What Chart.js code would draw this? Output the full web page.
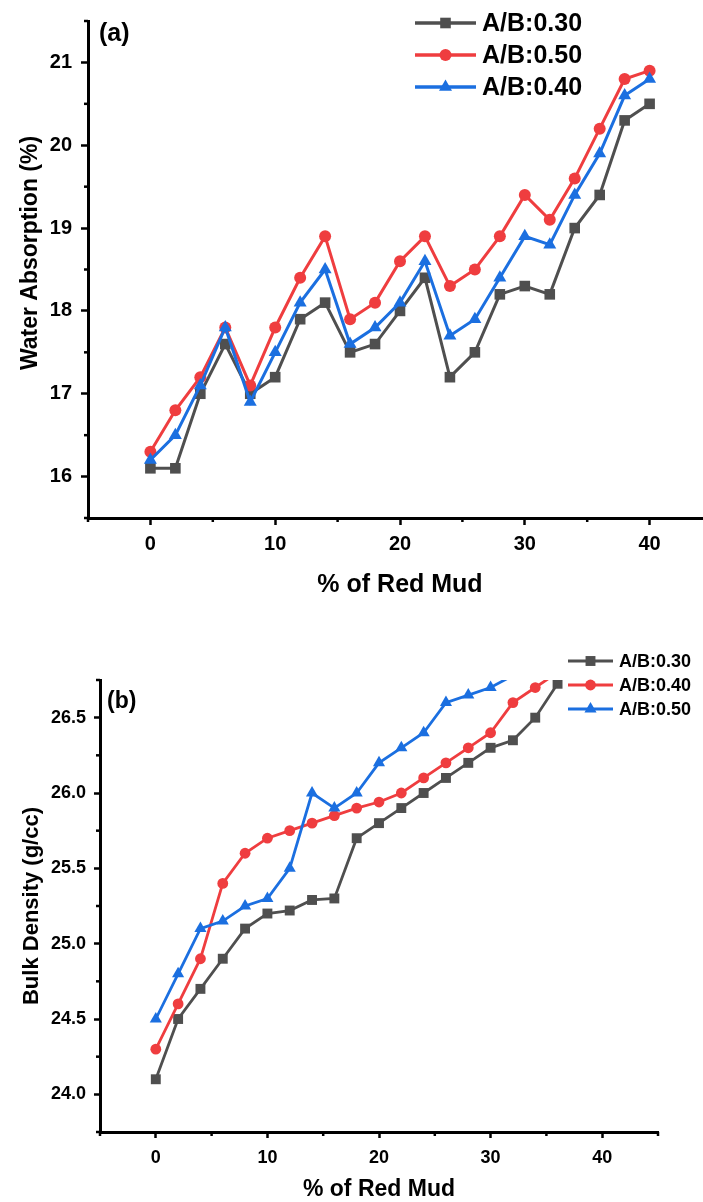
<!DOCTYPE html>
<html><head><meta charset="utf-8">
<script src="https://cdn.jsdelivr.net/npm/chart.js@4.4.1/dist/chart.umd.min.js"></script>
<style>
html,body{margin:0;padding:0;background:#fff;overflow:hidden;width:703px;height:1202px;}
canvas{position:absolute;left:0;}
</style></head><body>
<canvas id="ca" width="720" height="600" style="top:0"></canvas>
<canvas id="cb" width="703" height="602" style="top:600px"></canvas>
<script>
// ---------- data ----------
const redMudPct = [0,2,4,6,8,10,12,14,16,18,20,22,24,26,28,30,32,34,36,38,40];
const waterAB030 = [16.1,16.1,17.0,17.6,17.0,17.2,17.9,18.1,17.5,17.6,18.0,18.4,17.2,17.5,18.2,18.3,18.2,19.0,19.4,20.3,20.5];
const waterAB050 = [16.3,16.8,17.2,17.8,17.1,17.8,18.4,18.9,17.9,18.1,18.6,18.9,18.3,18.5,18.9,19.4,19.1,19.6,20.2,20.8,20.9];
const waterAB040 = [16.2,16.5,17.1,17.8,16.9,17.5,18.1,18.5,17.6,17.8,18.1,18.6,17.7,17.9,18.4,18.9,18.8,19.4,19.9,20.6,20.8];

const densAB030 = [24.1,24.5,24.7,24.9,25.1,25.2,25.22,25.29,25.3,25.7,25.8,25.9,26.0,26.1,26.2,26.3,26.35,26.5,26.725];
const densAB040 = [24.3,24.6,24.9,25.4,25.6,25.7,25.75,25.8,25.85,25.9,25.94,26.0,26.1,26.2,26.3,26.4,26.6,26.7,26.8];
const densAB050 = [24.5,24.8,25.1,25.15,25.25,25.3,25.5,26.0,25.9,26.0,26.2,26.3,26.4,26.6,26.65,26.7,26.78,26.82];

const xMajorTicks = [0,10,20,30,40];
const xMinorTicks = [-5,5,15,25,35,45];
const waterYTicks = [16,17,18,19,20,21];
const waterYMinor = [15.5,16.5,17.5,18.5,19.5,20.5,21.5];
const densYTicks = [24.0,24.5,25.0,25.5,26.0,26.5];
const densYMinor = [23.75,24.25,24.75,25.25,25.75,26.25,26.75];

const GRAY = '#4f4f4f', RED = '#ef3d3f', BLUE = '#1b6fe0';
const FONT = "'Liberation Sans', Arial, Helvetica, sans-serif";

function pts(vals){ return vals.map((v,i)=>({x:redMudPct[i], y:v})); }

function drawMarker(ctx, style, x, y, r, color){
  ctx.fillStyle = color; ctx.beginPath();
  if(style==='rect'){ const s = r*Math.SQRT1_2; ctx.rect(x-s,y-s,2*s,2*s); }
  else if(style==='circle'){ ctx.arc(x,y,r,0,Math.PI*2); }
  else { let a=0; ctx.moveTo(x+Math.sin(a)*r, y-Math.cos(a)*r); a+=2*Math.PI/3;
         ctx.lineTo(x+Math.sin(a)*r, y-Math.cos(a)*r); a+=2*Math.PI/3;
         ctx.lineTo(x+Math.sin(a)*r, y-Math.cos(a)*r); ctx.closePath(); }
  ctx.fill();
}

function decor(o){
  return { id:'decor', afterDraw(chart){
    const ctx=chart.ctx, xs=chart.scales.x, ys=chart.scales.y, ca=chart.chartArea;
    ctx.save();
    ctx.strokeStyle='#000'; ctx.lineWidth=o.minorW; ctx.lineCap='butt';
    o.xMinor.forEach(v=>{ const p=xs.getPixelForValue(v); ctx.beginPath(); ctx.moveTo(p,ca.bottom); ctx.lineTo(p,ca.bottom+o.minorLen); ctx.stroke(); });
    o.yMinor.forEach(v=>{ const p=ys.getPixelForValue(v); ctx.beginPath(); ctx.moveTo(ca.left,p); ctx.lineTo(ca.left-o.minorLen,p); ctx.stroke(); });
    ctx.fillStyle='#000'; ctx.textBaseline='middle'; ctx.textAlign='left';
    ctx.font='bold '+o.panelSize+'px '+FONT;
    ctx.fillText(o.panel, o.panelX, o.panelY);
    // y-axis title
    ctx.save();
    ctx.translate(o.yTitleX, o.yTitleY); ctx.rotate(-Math.PI/2);
    ctx.textAlign='center'; ctx.font='bold '+o.yTitleSize+'px '+FONT;
    ctx.fillText(o.yTitle, 0, 0);
    ctx.restore();
    chart.data.datasets.forEach((ds,i)=>{
      const y=o.legY[i];
      ctx.strokeStyle=ds.borderColor; ctx.lineWidth=o.legLineW;
      ctx.beginPath(); ctx.moveTo(o.legX0,y); ctx.lineTo(o.legX1,y); ctx.stroke();
      drawMarker(ctx, ds.pointStyle, (o.legX0+o.legX1)/2, y, ds.pointRadius, ds.borderColor);
      ctx.fillStyle='#000'; ctx.font='bold '+o.legSize+'px '+FONT; ctx.textAlign='left';
      ctx.fillText(ds.label, o.legTextX, y+1);
    });
    ctx.restore();
  }};
}

function ds(label, data, color, style, r, lw, order){
  return { label, data:pts(data), borderColor:color, backgroundColor:color, borderWidth:lw,
    pointStyle:style, pointRadius:r, pointHoverRadius:r, pointBorderWidth:0, pointBackgroundColor:color,
    tension:0, order, clip:0 };
}

function axisOpts(cfg){
  return {
    x:{ type:'linear', min:-5, max:45,
      afterBuildTicks:s=>{ s.ticks = xMajorTicks.map(v=>({value:v})); },
      afterFit:s=>{ s.height=cfg.xH; },
      ticks:{ autoSkip:false, maxRotation:0, color:'#000', padding:cfg.xPad, font:{family:FONT, size:cfg.tickSize, weight:'bold'}, callback:v=>String(v) },
      grid:{ display:true, drawOnChartArea:false, drawTicks:true, tickLength:cfg.majorLen, tickWidth:cfg.tickW, tickColor:'#000' },
      border:{ display:true, color:'#000', width:cfg.axisW },
      title:{ display:true, text:'% of Red Mud', color:'#000', font:{family:FONT, size:cfg.xTitleSize, weight:'bold', lineHeight:1}, padding:{top:0,bottom:cfg.xTitlePad} }
    },
    y:{ type:'linear', min:cfg.yMin, max:cfg.yMax,
      afterBuildTicks:s=>{ s.ticks = cfg.yTicks.map(v=>({value:v})); },
      afterFit:s=>{ s.width=cfg.yW; },
      ticks:{ autoSkip:false, color:'#000', padding:cfg.yPad, font:{family:FONT, size:cfg.tickSize, weight:'bold'}, callback:cfg.yFmt },
      grid:{ display:true, drawOnChartArea:false, drawTicks:true, tickLength:cfg.majorLen, tickWidth:cfg.tickW, tickColor:'#000' },
      border:{ display:true, color:'#000', width:cfg.axisW },
      title:{ display:false }
    }
  };
}

// ---------- chart (a) ----------
new Chart(document.getElementById('ca'), {
  type:'line',
  data:{ datasets:[
    ds('A/B:0.30', waterAB030, GRAY, 'rect', 7.5, 3, 2),
    ds('A/B:0.50', waterAB050, RED, 'circle', 6, 3, 1),
    ds('A/B:0.40', waterAB040, BLUE, 'triangle', 7.5, 3, 0)
  ]},
  options:{
    responsive:false, animation:false, devicePixelRatio:1,
    layout:{ padding:{ left:0, top:12, right:8, bottom:0 } },
    plugins:{ legend:{display:false}, tooltip:{enabled:false} },
    scales: axisOpts({ xH:82, yW:88, xPad:7, yPad:9, tickSize:20, majorLen:7, tickW:2.5, axisW:3,
      xTitleSize:25, xTitlePad:2.5, yMin:15.5, yMax:21.5, yTicks:waterYTicks, yFmt:v=>String(v) })
  },
  plugins:[ decor({ xMinor:xMinorTicks, yMinor:waterYMinor, minorLen:4, minorW:2.5,
    panel:'(a)', panelSize:25, panelX:99, panelY:34,
    yTitle:'Water Absorption (%)', yTitleSize:23, yTitleX:31, yTitleY:253,
    legY:[23,55,87], legX0:415, legX1:476, legTextX:482, legSize:25, legLineW:3.5 }) ]
});

// ---------- chart (b) ----------
new Chart(document.getElementById('cb'), {
  type:'line',
  data:{ datasets:[
    ds('A/B:0.30', densAB030, GRAY, 'rect', 7, 2.8, 2),
    ds('A/B:0.40', densAB040, RED, 'circle', 5.4, 2.8, 1),
    ds('A/B:0.50', densAB050, BLUE, 'triangle', 7, 2.8, 0)
  ]},
  options:{
    responsive:false, animation:false, devicePixelRatio:1,
    layout:{ padding:{ left:0, top:80, right:45, bottom:0 } },
    plugins:{ legend:{display:false}, tooltip:{enabled:false} },
    scales: axisOpts({ xH:70, yW:100, xPad:9, yPad:8, tickSize:18, majorLen:6, tickW:2.5, axisW:3,
      xTitleSize:23, xTitlePad:0.5, yMin:23.75, yMax:26.75, yTicks:densYTicks, yFmt:v=>Number(v).toFixed(1) })
  },
  plugins:[ decor({ xMinor:xMinorTicks, yMinor:densYMinor, minorLen:4, minorW:2.5,
    panel:'(b)', panelSize:23, panelX:107, panelY:102,
    yTitle:'Bulk Density (g/cc)', yTitleSize:22, yTitleX:32, yTitleY:306,
    legY:[61,85,109], legX0:568, legX1:613, legTextX:619, legSize:18, legLineW:3 }) ]
});
</script>
</body></html>
